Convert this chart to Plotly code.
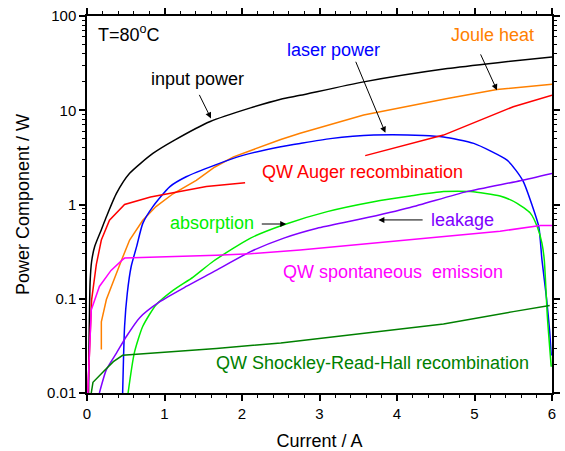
import math
import plotly.graph_objects as go

# ---- data ----
input_x = [0.02, 0.04, 0.06, 0.1, 0.185, 0.25, 0.38, 0.55, 0.85, 1.13, 1.59, 2.11, 2.5, 2.75, 3.57, 4.65, 5.3, 6.0]
input_y = [0.01, 0.15, 0.25, 0.36, 0.54, 0.74, 1.31, 2.14, 3.48, 4.82, 7.6, 10.6, 13.1, 14.4, 20.0, 27.7, 32.0, 36.8]

joule_x = [0.185, 0.185, 0.25, 0.356, 0.44, 0.55, 0.72, 0.89, 1.11, 1.41, 1.65, 1.89, 2.5, 2.75, 3.57, 4.65, 5.29, 6.0]
joule_y = [0.029, 0.057, 0.098, 0.17, 0.25, 0.42, 0.68, 0.95, 1.3, 1.8, 2.5, 3.2, 4.9, 5.7, 8.9, 13.3, 16.6, 18.9]

laser_x = [0.46, 0.485, 0.52, 0.57, 0.64, 0.72, 0.85, 1.07, 1.28, 1.65, 2.0, 2.5, 2.75, 3.14, 3.7, 4.34, 4.6,
           4.99, 5.42, 5.53, 5.63, 5.74, 5.83, 5.87, 5.93, 5.97, 5.99]
laser_y = [0.01, 0.051, 0.115, 0.22, 0.357, 0.63, 0.95, 1.55, 1.97, 2.62, 3.3, 4.1, 4.45, 5.0, 5.45, 5.4, 5.2,
           4.45, 2.96, 2.33, 1.75, 1.0, 0.58, 0.26, 0.1, 0.045, 0.025]

auger1_x = [0.01, 0.06, 0.12, 0.185, 0.29, 0.485, 0.82, 1.54, 2.04]
auger1_y = [0.01, 0.098, 0.23, 0.42, 0.68, 1.0, 1.2, 1.55, 1.70]
auger2_x = [3.59, 3.74, 4.6, 5.5, 6.0]
auger2_y = [3.3, 3.55, 5.45, 10.9, 14.4]

absorb_x = [0.53, 0.61, 0.72, 0.89, 1.11, 1.37, 1.63, 2.11, 2.54, 3.10, 3.70, 4.17, 4.60, 4.95, 5.33,
            5.55, 5.72, 5.81, 5.87, 5.90, 5.94, 5.99]
absorb_y = [0.01, 0.0265, 0.051, 0.086, 0.123, 0.17, 0.25, 0.44, 0.61, 0.84, 1.07, 1.23, 1.37, 1.37, 1.23,
            1.03, 0.81, 0.58, 0.39, 0.26, 0.065, 0.019]

leak_x = [0.16, 0.25, 0.38, 0.51, 0.68, 0.94, 1.28, 1.63, 2.11, 2.54, 2.97, 3.53, 4.17, 4.90, 5.59, 6.0]
leak_y = [0.01, 0.0177, 0.0265, 0.04, 0.063, 0.093, 0.135, 0.193, 0.316, 0.44, 0.56, 0.70, 0.93, 1.37, 1.79, 2.14]

spont_x = [0.01, 0.055, 0.16, 0.31, 0.46, 0.485, 1.67, 2.11, 2.75, 3.7, 4.6, 5.33, 5.85, 6.0]
spont_y = [0.01, 0.076, 0.135, 0.2, 0.26, 0.27, 0.29, 0.30, 0.33, 0.39, 0.45, 0.52, 0.60, 0.60]

srh_x = [0.055, 0.077, 0.21, 0.34, 0.46, 1.67, 2.5, 2.75, 3.7, 4.6, 5.5, 5.97]
srh_y = [0.01, 0.013, 0.0168, 0.0215, 0.0251, 0.0297, 0.034, 0.036, 0.044, 0.054, 0.073, 0.085]

y_tickvals = [0.01, 0.1, 1, 10, 100]
y_ticktext = ["0.01", "0.1", "1", "10", "100"]
x_tickvals = [0, 1, 2, 3, 4, 5, 6]

FONT = "Liberation Sans, Arial, sans-serif"

fig = go.Figure()

def add(x, y, color, shape="spline"):
    fig.add_trace(go.Scatter(x=x, y=y, mode="lines",
                             line=dict(color=color, width=1.5, shape=shape, smoothing=0.6),
                             showlegend=False, hoverinfo="skip"))

add(input_x, input_y, "#000000")
add(joule_x, joule_y, "#FF8000", "linear")
add(laser_x, laser_y, "#0000FF")
add(auger1_x, auger1_y, "#FF0000", "linear")
add(auger2_x, auger2_y, "#FF0000", "linear")
add(absorb_x, absorb_y, "#00EE00")
add(leak_x, leak_y, "#8000FF")
add(spont_x, spont_y, "#FF00FF", "linear")
add(srh_x, srh_y, "#008000", "linear")

minor_y = [m * 10 ** e for e in range(-2, 2) for m in range(2, 10)]

axis_common = dict(showline=True, linecolor="black", linewidth=1.5, mirror="allticks",
                   ticks="outside", tickcolor="black", tickwidth=1.5, ticklen=6,
                   showgrid=False, zeroline=False, automargin=False,
                   tickfont=dict(family=FONT, size=15, color="black"))

fig.update_xaxes(range=[0, 6], tickmode="array", tickvals=x_tickvals,
                 minor=dict(ticks="outside", ticklen=3.5, dtick=0.2, tickcolor="black", tickwidth=1.2, showgrid=False),
                 title=dict(text="Current / A", font=dict(family=FONT, size=18, color="black"), standoff=14),
                 **axis_common)
fig.update_yaxes(type="log", range=[-2, 2], tickmode="array", tickvals=y_tickvals, ticktext=y_ticktext,
                 minor=dict(ticks="outside", ticklen=3.5, tickmode="array", tickvals=minor_y,
                            tickcolor="black", tickwidth=1.2, showgrid=False),
                 title=dict(text="Power Component / W", font=dict(family=FONT, size=18, color="black"), standoff=13),
                 **axis_common)

L = math.log10

def label(text, x, y, color, xanchor="center"):
    fig.add_annotation(x=x, y=L(y), yref="y", xref="x", text=text, showarrow=False,
                       font=dict(family=FONT, size=18, color=color), xanchor=xanchor, yanchor="middle")

def arrow(x0, y0, x1, y1):
    fig.add_annotation(x=x1, y=L(y1), ax=x0, ay=L(y0), xref="x", yref="y", axref="x", ayref="y",
                       text="", showarrow=True, arrowhead=2, arrowsize=1.2, arrowwidth=1,
                       arrowcolor="black")

label("T=80<sup>o</sup>C", 0.12, 65, "black", xanchor="left")
label("input power", 1.42, 21.2, "black")
label("laser power", 3.18, 44, "#0000FF")
label("Joule heat", 5.23, 62.5, "#FF8000")
label("QW Auger recombination", 3.55, 2.22, "#FF0000")
label("absorption", 1.617, 0.632, "#00EE00")
label("leakage", 4.84, 0.686, "#8000FF")
label("QW spontaneous&nbsp; emission", 3.95, 0.194, "#FF00FF")
label("QW Shockley-Read-Hall recombination", 3.69, 0.0208, "#008000")

arrow(1.44, 15.1, 1.60, 8.19)
arrow(3.46, 33.9, 3.85, 5.77)
arrow(5.07, 40.6, 5.29, 16.3)
arrow(2.236, 0.621, 2.57, 0.621)
arrow(4.35, 0.686, 3.76, 0.686)

fig.update_layout(width=565, height=451, margin=dict(l=87, r=13, t=16, b=58, autoexpand=False),
                  plot_bgcolor="white", paper_bgcolor="white",
                  font=dict(family=FONT, color="black"))

fig.write_html("out.html")
